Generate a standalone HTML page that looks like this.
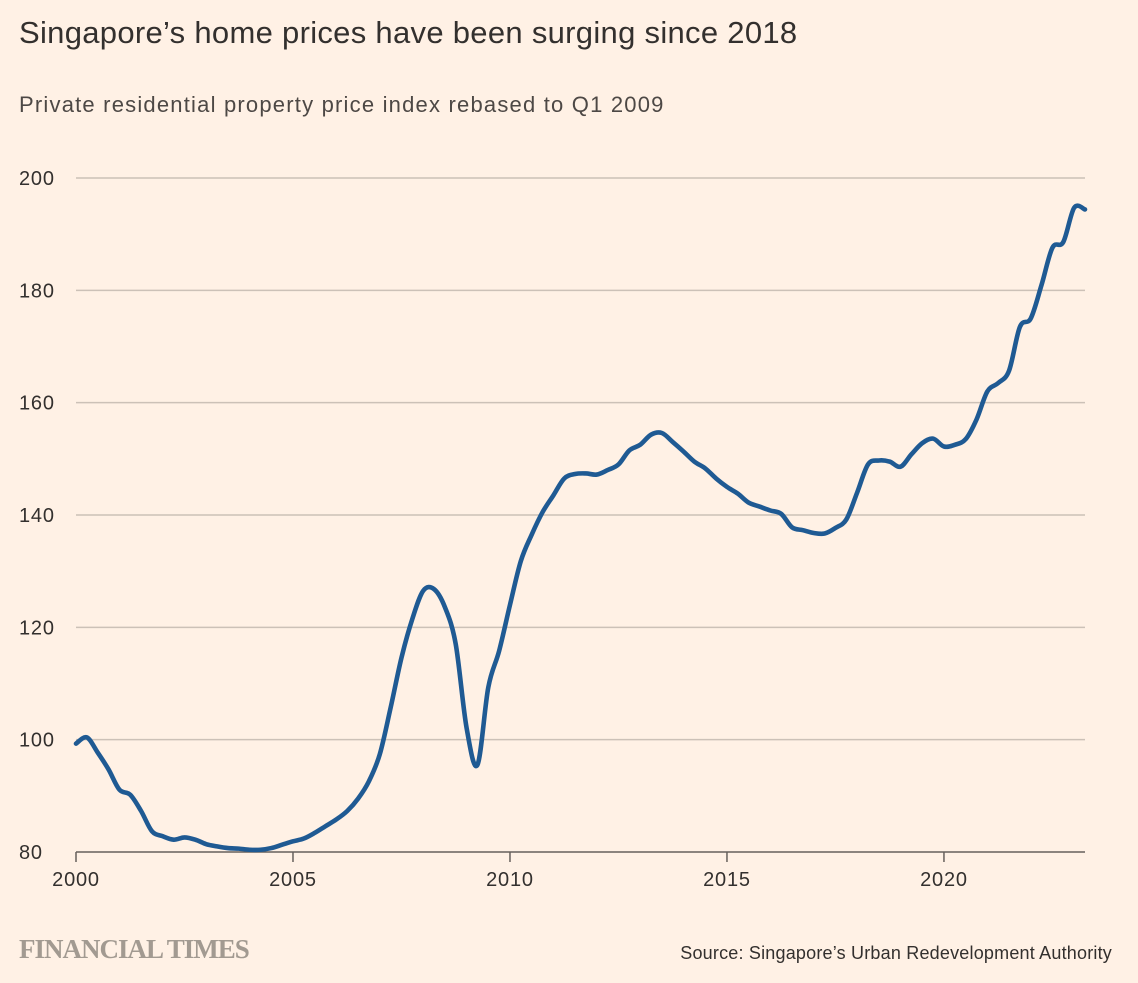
<!DOCTYPE html>
<html><head><meta charset="utf-8"><style>
html,body{margin:0;padding:0;background:#fff1e5;}
body{width:1138px;height:983px;overflow:hidden;position:relative;font-family:"Liberation Sans",sans-serif;color:#33302e;}
#title{position:absolute;left:19px;top:15px;font-size:31px;color:#33302e;letter-spacing:0.3px;}
#sub{position:absolute;left:19px;top:92px;font-size:22px;color:#4d4845;letter-spacing:1.2px;}
#ft{position:absolute;left:19px;top:934px;font-family:"Liberation Serif",serif;font-size:27px;color:#a29a91;letter-spacing:-1px;font-weight:bold;}
#src{position:absolute;right:26px;top:943px;font-size:18px;color:#33302e;letter-spacing:0.2px;}
svg{position:absolute;left:0;top:0;}
</style></head><body>
<div id="title">Singapore’s home prices have been surging since 2018</div>
<div id="sub">Private residential property price index rebased to Q1 2009</div>
<svg id="chart" width="1138" height="983"></svg>
<div id="ft">FINANCIAL TIMES</div>
<div id="src">Source: Singapore’s Urban Redevelopment Authority</div>
<script>
const startYear = 2000;
const priceIndex = [
99.3,100.4,97.7,94.7, 91.1,90.2,87.3,83.7, 82.8,82.2,82.6,82.2, 81.4,81.0,80.7,80.6,
80.4,80.4,80.7,81.3, 81.9,82.4,83.4,84.6, 85.8,87.3,89.5,92.6, 97.4,105.7,114.6,121.5,
126.5,126.8,123.6,117, 102.1,95.5,109.3,115.8, 124,131.8,136.5,140.5, 143.5,146.5,147.3,147.4,
147.2,148,149,151.5, 152.5,154.3,154.6,153, 151.3,149.5,148.3,146.5, 145,143.8,142.2,141.5,
140.8,140.2,137.8,137.3, 136.8,136.7,137.7,139.2, 144,149,149.7,149.5, 148.6,150.8,152.8,153.6,
152.2,152.5,153.5,157, 162,163.5,165.7,173.5, 175,181,187.6,188.6, 194.7,194.4];
const yTicks = [80,100,120,140,160,180,200];
const xTicks = [2000,2005,2010,2015,2020];
const svg = document.getElementById('chart');
const NS = 'http://www.w3.org/2000/svg';
const X0=76, X1=1085, Y0=852, Y1=178;
const tMax = 2023.25;
function xs(t){return X0+(t-startYear)/(tMax-startYear)*(X1-X0);}
function ys(v){return Y0-(v-80)/(200-80)*(Y0-Y1);}
function mk(tag,attrs){const e=document.createElementNS(NS,tag);for(const k in attrs)e.setAttribute(k,attrs[k]);svg.appendChild(e);return e;}
yTicks.forEach(v=>{
  if(v!==80){const g=mk('line',{x1:X0,x2:X1,y1:ys(v),y2:ys(v),stroke:'#ccc1b7','stroke-width':1.5});
  
  }
  const t=mk('text',{x:19,y:ys(v)+7,'font-size':20,fill:'#33302e','letter-spacing':0.8,'font-family':'Liberation Sans, sans-serif'});
  t.textContent=v;
  
  
});
const ax=mk('line',{x1:X0,x2:X1,y1:Y0,y2:Y0,stroke:'#66605c','stroke-width':1.5});


xTicks.forEach(y=>{
  const tk=mk('line',{x1:xs(y),x2:xs(y),y1:Y0,y2:Y0+10,stroke:'#66605c','stroke-width':1.5});
  
  
  const t=mk('text',{x:xs(y),y:Y0+34,'font-size':20,fill:'#33302e','text-anchor':'middle','letter-spacing':0.8,'font-family':'Liberation Sans, sans-serif'});
  t.textContent=y;
  
  
});
const pts=priceIndex.map((v,i)=>[xs(startYear+i/4),ys(v)]);
let d='M'+pts[0][0]+','+pts[0][1];
for(let i=0;i<pts.length-1;i++){
  const p0=pts[Math.max(0,i-1)],p1=pts[i],p2=pts[i+1],p3=pts[Math.min(pts.length-1,i+2)];
  const c1x=p1[0]+(p2[0]-p0[0])/6,c1y=p1[1]+(p2[1]-p0[1])/6;
  const c2x=p2[0]-(p3[0]-p1[0])/6,c2y=p2[1]-(p3[1]-p1[1])/6;
  d+=' C'+c1x+','+c1y+' '+c2x+','+c2y+' '+p2[0]+','+p2[1];
}
const line=mk('path',{d:d,fill:'none',stroke:'#1f5a93','stroke-width':4.6,'stroke-linejoin':'round','stroke-linecap':'round'});


</script>
</body></html>
